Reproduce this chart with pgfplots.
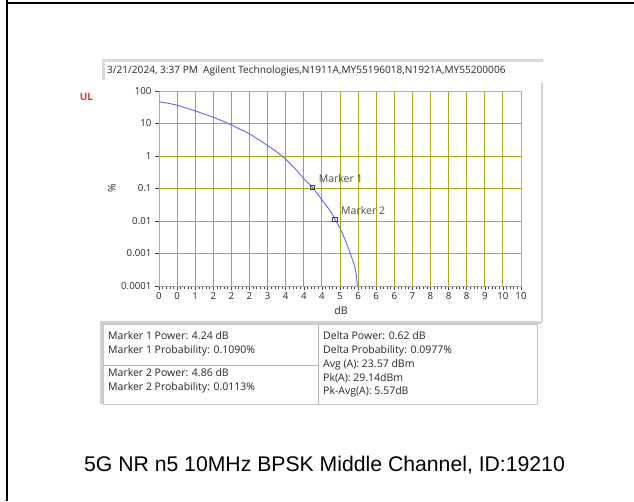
\documentclass[border=0pt]{standalone}
\usepackage{fontspec}
\setmainfont{Open Sans}
\newfontfamily\arial{Liberation Sans}
\usepackage{pgfplots}
\pgfplotsset{compat=1.18}
\definecolor{gridol}{RGB}{170,170,20}
\definecolor{curve}{RGB}{100,100,250}
\definecolor{ulred}{RGB}{235,50,50}
\newcommand{\uif}{\fontsize{10.5}{12}\selectfont}
\newcommand{\tkf}{\fontsize{9.7}{12}\selectfont}
\begin{document}
\begin{tikzpicture}
\path[use as bounding box, fill=white] (0,0) rectangle (634pt,-501pt);
\begin{scope}[x=1pt,y=-1pt]
% outer border (left and top)
\fill[black] (6,0) rectangle (8,501);
\fill[black] (6,2) rectangle (634,4);
% header box
\fill[white] (102,59) rectangle (543,80);
\fill[gray!30] (102,59) rectangle (543,62);
\fill[gray!30] (102,59) rectangle (105,80);
\node[anchor=west, inner sep=0pt, font=\fontsize{10.1}{12}\selectfont, text=black!85] at (107,70.5) {3/21/2024, 3:37 PM\ \ Agilent Technologies,N1911A,MY55196018,N1921A,MY55200006};
% panel right shadow
\fill[gray!35] (541,83) rectangle (543,322);
% UL
\node[font=\fontsize{10}{12}\selectfont\bfseries, text=ulred, inner sep=0pt] at (86.5,97) {UL};
% table
\fill[gray!35] (100,321) rectangle (542,324);
\fill[gray!35] (100,321) rectangle (103,404);
\draw[gray!45, line width=0.8pt] (103,324) rectangle (537,404);
\draw[gray!60, line width=0.8pt] (318,324) -- (318,404);
\draw[gray!60, line width=0.8pt] (103,365) -- (318,365);
\begin{scope}[every node/.style={anchor=west, inner sep=0pt, font=\uif, text=black!85}]
\node at (108,335.5) {Marker 1 Power: 4.24 dB};
\node at (108,350.5) {Marker 1 Probability: 0.1090\%};
\node at (108,373) {Marker 2 Power: 4.86 dB};
\node at (108,388) {Marker 2 Probability: 0.0113\%};
\node at (323,335.5) {Delta Power: 0.62 dB};
\node at (323,350.5) {Delta Probability: 0.0977\%};
\node at (323,364.5) {Avg (A): 23.57 dBm};
\node at (323,378) {Pk(A): 29.14dBm};
\node at (323,392) {Pk-Avg(A): 5.57dB};
\end{scope}
% title
\node[font=\arial\fontsize{21.2}{24}\selectfont, text=black] at (324.5,465) {5G NR n5 10MHz BPSK Middle Channel, ID:19210};
\end{scope}
\begin{axis}[
  at={(159pt,-286pt)}, anchor=south west,
  scale only axis, width=362pt, height=195pt,
  ymode=log, xmin=0, xmax=10, ymin=1e-4, ymax=100,
  xtick={0,0.5,...,10},
  xticklabels={0,0,1,2,2,2,3,4,4,4,5,6,6,6,7,8,8,8,9,10,10},
  minor x tick num=4,
  ytick={1e-4,1e-3,0.01,0.1,1,10,100},
  yticklabels={0.0001,0.001,0.01,0.1,1,10,100},
  yminorticks=false,
  xtick pos=bottom, ytick pos=left,
  tick align=outside,
  major tick length=4pt, minor tick length=2.5pt,
  tick style={black!75, line width=0.6pt},
  xmajorgrids, ymajorgrids,
  major grid style={gridol, line width=0.9pt},
  axis line style={draw=gray!65, line width=0.8pt},
  /pgf/number format/assume math mode=true,
  ticklabel style={font=\tkf, text=black!85},
  xticklabel style={yshift=1pt},
  xlabel={dB}, ylabel={\%},
  label style={font=\uif, text=black!85},
  xlabel style={at={(axis description cs:0.503,-0.128)}, anchor=center},
  ylabel style={at={(axis description cs:-0.13,0.503)}, anchor=center},
]
\addplot[curve, line width=0.9pt, smooth, tension=0.3] coordinates {
(0,47) (0.25,42) (0.5,36.5) (0.75,30) (1.0,24.5) (1.25,19.5) (1.5,15.5)
(1.75,12) (2.0,9.0) (2.25,6.6) (2.5,4.8) (2.75,3.2) (3.0,2.1) (3.25,1.35)
(3.5,0.80) (3.75,0.42) (4.0,0.20) (4.24,0.109) (4.5,0.045) (4.75,0.019)
(4.86,0.0113) (5.0,0.006) (5.15,0.0025) (5.3,0.0009) (5.4,0.00042)
(5.45,0.00022) (5.48,0.0001)
};
\addplot[only marks, mark=square, mark size=2.2pt, mark options={draw=black!75, line width=0.6pt},
  point meta=explicit symbolic,
  nodes near coords,
  nodes near coords style={anchor=west, inner sep=0pt, xshift=6pt, yshift=8.7pt, font=\uif, text=black!70}]
coordinates {(4.24,0.109) [Marker 1] (4.86,0.0113) [Marker 2]};
\end{axis}
\end{tikzpicture}
\end{document}
